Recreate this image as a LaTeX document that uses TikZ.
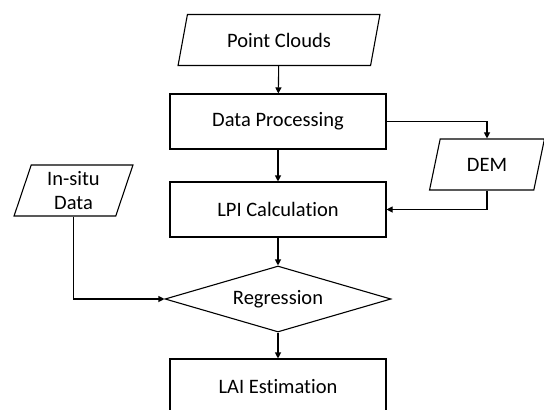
\documentclass[tikz,border=0pt]{standalone}
\usepackage{fontspec}
\setmainfont{Carlito}[Ligatures=NoCommon]
\usetikzlibrary{shapes.geometric,arrows.meta}
\tikzset{%
  procbox/.style = {shape=rectangle, draw, line width=1.1pt,%
                    minimum width=216pt, minimum height=55pt},%
  iobox/.style   = {shape=trapezium, draw, line width=1.1pt, align=center,%
                    trapezium left angle=75, trapezium right angle=105,%
                    trapezium stretches=true, minimum height=51pt},%
  decbox/.style  = {shape=diamond, draw, line width=1.1pt, aspect=3.4,%
                    minimum width=226pt, minimum height=66pt, inner sep=0pt},%
  flow/.style    = {line width=1.1pt, -{Triangle[length=6pt,width=6pt]}}%
}
\begin{document}
\begin{tikzpicture}[x=1pt,y=-1pt, every node/.style={font=\fontsize{20.5}{24}\selectfont}]
	\clip (0,0) rectangle (544,410);
	\fill[white] (0,0) rectangle (544,410);
	% boxes
	\node (pc)  at (279,40)    [iobox, minimum width=202pt] {Point Clouds};
	\node (dp)  at (278,121.5) [procbox] {Data Processing};
	\node (dem) at (487,164.5) [iobox, minimum width=115pt] {DEM};
	\node (lpi) at (278,209.5) [procbox] {LPI Calculation};
	\node (ins) at (73.5,190.5)[iobox, minimum width=119pt] {In-situ\\Data};
	\node (reg) at (278,299)   [decbox] {Regression};
	\node (lai) at (278,386.5) [procbox] {LAI Estimation};
	% connectors
	\draw[flow] (pc) -- (dp);
	\draw[flow] (dp) -- (lpi);
	\draw[flow] (dp.east) -| (dem.north);
	\draw[flow] (dem.south) |- (lpi.east);
	\draw[flow] (lpi) -- (reg);
	\draw[flow] (ins.south) |- (reg.west);
	\draw[flow] (reg) -- (lai);
\end{tikzpicture}
\end{document}
